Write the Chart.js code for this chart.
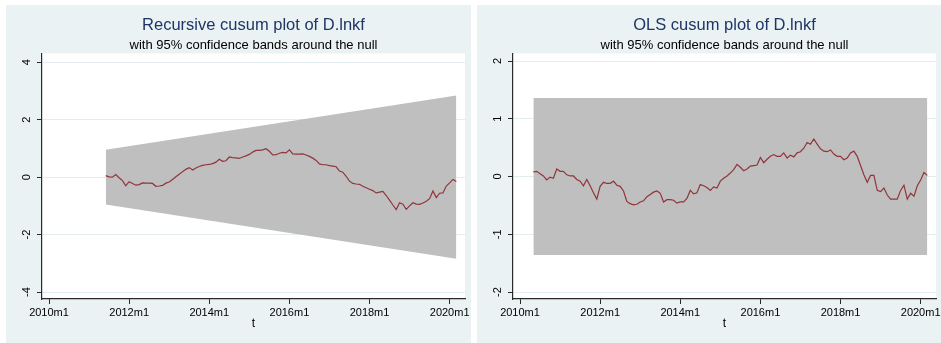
<!DOCTYPE html>
<html>
<head>
<meta charset="utf-8">
<script src="https://cdn.jsdelivr.net/npm/chart.js@4.4.1/dist/chart.umd.min.js"></script>
<style>
  html, body { margin: 0; padding: 0; background: #ffffff; }
  body { width: 941px; height: 343px; position: relative; overflow: hidden; }
  .panel { position: absolute; top: 5px; height: 338px; background: #EAF2F3; overflow: hidden; }
  #p1 { left: 6px; width: 465px; }
  #p2 { left: 477px; width: 464px; }
  .panel canvas { position: absolute; left: 0; top: 0; }
</style>
</head>
<body>
<div class="panel" id="p1"><canvas id="c1" width="490" height="338"></canvas></div>
<div class="panel" id="p2"><canvas id="c2" width="490" height="338"></canvas></div>
<script>
// Months are counted from 2010m1 = 0 (Stata %tm style)
const tickMonths = [0, 24, 48, 72, 96, 120];
const tickLabels = ["2010m1", "2012m1", "2014m1", "2016m1", "2018m1", "2020m1"];

// Recursive cusum of D.lnkf, 2011m6 .. 2020m3
const recStartMonth = 17;
const recCusum = [
  0.05, 0.01, 0.00, 0.09, -0.02, -0.12, -0.30, -0.16, -0.22, -0.28,
  -0.26, -0.20, -0.21, -0.21, -0.22, -0.32, -0.31, -0.29, -0.21, -0.17,
  -0.08, 0.01, 0.10, 0.19, 0.27, 0.33, 0.25, 0.32, 0.37, 0.41,
  0.43, 0.44, 0.47, 0.52, 0.62, 0.55, 0.57, 0.70, 0.68, 0.67,
  0.65, 0.70, 0.74, 0.79, 0.87, 0.93, 0.93, 0.95, 0.99, 0.90,
  0.77, 0.78, 0.83, 0.86, 0.84, 0.95, 0.81, 0.80, 0.80, 0.81,
  0.77, 0.72, 0.66, 0.58, 0.46, 0.43, 0.43, 0.40, 0.38, 0.36,
  0.21, 0.17, 0.03, -0.14, -0.22, -0.24, -0.25, -0.32, -0.37, -0.42,
  -0.47, -0.55, -0.52, -0.50, -0.64, -0.80, -0.97, -1.13, -0.89, -0.94,
  -1.12, -1.00, -0.89, -0.94, -0.95, -0.90, -0.84, -0.75, -0.48, -0.71,
  -0.56, -0.55, -0.31, -0.20, -0.08, -0.15
];
// 95% band around the null for the recursive cusum (straight edges)
const recBandMonths = [17, 122];
const recBandUpper = [0.95, 2.84];
const recBandLower = [-0.95, -2.84];

// OLS cusum of D.lnkf, 2010m5 .. 2020m3
const olsStartMonth = 4;
const olsCusum = [
  0.08, 0.09, 0.05, 0.01, -0.06, -0.01, -0.03, 0.13, 0.09, 0.09,
  0.03, 0.01, 0.01, -0.05, -0.08, -0.16, -0.05, -0.16, -0.28, -0.39,
  -0.17, -0.10, -0.12, -0.12, -0.08, -0.15, -0.17, -0.25, -0.43, -0.47,
  -0.49, -0.48, -0.44, -0.42, -0.35, -0.31, -0.27, -0.25, -0.29, -0.44,
  -0.40, -0.40, -0.41, -0.46, -0.44, -0.44, -0.38, -0.24, -0.30, -0.28,
  -0.14, -0.16, -0.19, -0.24, -0.18, -0.20, -0.08, -0.03, 0.01, 0.06,
  0.12, 0.21, 0.16, 0.10, 0.13, 0.18, 0.19, 0.20, 0.33, 0.24,
  0.30, 0.35, 0.38, 0.35, 0.35, 0.41, 0.32, 0.37, 0.34, 0.41,
  0.43, 0.49, 0.59, 0.56, 0.65, 0.56, 0.48, 0.44, 0.43, 0.46,
  0.39, 0.35, 0.35, 0.29, 0.32, 0.41, 0.44, 0.35, 0.19, 0.03,
  -0.10, 0.02, 0.02, -0.24, -0.26, -0.20, -0.32, -0.39, -0.39, -0.39,
  -0.24, -0.15, -0.39, -0.29, -0.34, -0.16, -0.06, 0.07, 0.02
];
const olsBandMonths = [4, 122];
const olsBandUpper = [1.358, 1.358];
const olsBandLower = [-1.358, -1.358];

const recTicksY = [-4, -2, 0, 2, 4];
const olsTicksY = [-2, -1, 0, 1, 2];

Chart.defaults.font.family = "'Liberation Sans', Arial, Helvetica, sans-serif";
Chart.defaults.color = '#000';

const LINE_COLOR = '#90353B';
const BAND_COLOR = 'rgb(191,191,191)';
const AXIS_COLOR = '#2a2a2a';
const GRID_COLOR = '#E4EDF0';

const seriesPoints = (start, vals) => vals.map((v, i) => ({ x: start + i, y: v }));
const pairPoints = (xs, ys) => xs.map((x, i) => ({ x: x, y: ys[i] }));

// white plot region, like Stata's plotregion
const plotRegion = {
  id: 'plotRegion',
  beforeDraw(chart) {
    const a = chart.chartArea, ctx = chart.ctx;
    ctx.save();
    ctx.fillStyle = '#ffffff';
    ctx.fillRect(a.left, a.top, a.right - a.left, a.bottom - a.top);
    ctx.restore();
  }
};

function makeChart(id, title, series, start, bandX, bandUp, bandLo, yMin, yMax, yTicks) {
  return new Chart(document.getElementById(id), {
    type: 'line',
    data: {
      datasets: [
        {
          data: seriesPoints(start, series),
          borderColor: LINE_COLOR, borderWidth: 1.2,
          pointRadius: 0, tension: 0, fill: false, order: 0
        },
        {
          data: pairPoints(bandX, bandUp),
          borderWidth: 0, borderColor: 'rgba(0,0,0,0)', backgroundColor: BAND_COLOR,
          pointRadius: 0, fill: '+1', order: 1
        },
        {
          data: pairPoints(bandX, bandLo),
          borderWidth: 0, borderColor: 'rgba(0,0,0,0)',
          pointRadius: 0, fill: false, order: 2
        }
      ]
    },
    options: {
      responsive: false,
      animation: false,
      events: [],
      layout: { padding: { left: 0, top: 0, right: 31, bottom: 0 } },
      plugins: {
        legend: { display: false },
        tooltip: { enabled: false },
        title: {
          display: true, text: title, fullSize: false,
          color: '#1F3566',
          font: { size: 16.5, weight: 'normal', lineHeight: 1.2 },
          padding: { top: 11, bottom: 0 }
        },
        subtitle: {
          display: true, text: 'with 95% confidence bands around the null', fullSize: false,
          color: '#000',
          font: { size: 13, weight: 'normal', lineHeight: 1.2 },
          padding: { top: 2.1, bottom: 0 }
        }
      },
      scales: {
        x: {
          type: 'linear', min: -2.1, max: 124.6,
          afterBuildTicks: s => { s.ticks = tickMonths.map(v => ({ value: v })); },
          afterFit: s => { s.height = 44; },
          ticks: {
            font: { size: 11 }, color: '#000', padding: 2,
            maxRotation: 0, minRotation: 0, autoSkip: false,
            callback: v => tickLabels[tickMonths.indexOf(v)]
          },
          grid: { drawOnChartArea: false, drawTicks: true, tickLength: 5, tickColor: AXIS_COLOR, tickWidth: 1 },
          border: { display: true, color: AXIS_COLOR, width: 1.2 },
          title: { display: true, text: 't', color: '#000', font: { size: 12 }, padding: { top: 0, bottom: 12.3 } }
        },
        y: {
          type: 'linear', min: yMin, max: yMax,
          afterBuildTicks: s => { s.ticks = yTicks.map(v => ({ value: v })); },
          afterFit: s => { s.width = 36; },
          ticks: {
            font: { size: 11 }, color: '#000', padding: 5.1,
            minRotation: 90, maxRotation: 90, crossAlign: 'center', autoSkip: false,
            callback: v => String(v)
          },
          grid: { drawOnChartArea: true, color: GRID_COLOR, lineWidth: 1, drawTicks: true, tickLength: 5, tickColor: AXIS_COLOR, tickWidth: 1 },
          border: { display: true, color: AXIS_COLOR, width: 1.2 }
        }
      }
    },
    plugins: [plotRegion]
  });
}

makeChart('c1', 'Recursive cusum plot of D.lnkf', recCusum, recStartMonth,
  recBandMonths, recBandUpper, recBandLower, -4.24, 4.30, recTicksY);
makeChart('c2', 'OLS cusum plot of D.lnkf', olsCusum, olsStartMonth,
  olsBandMonths, olsBandUpper, olsBandLower, -2.12, 2.13, olsTicksY);
</script>
</body>
</html>
